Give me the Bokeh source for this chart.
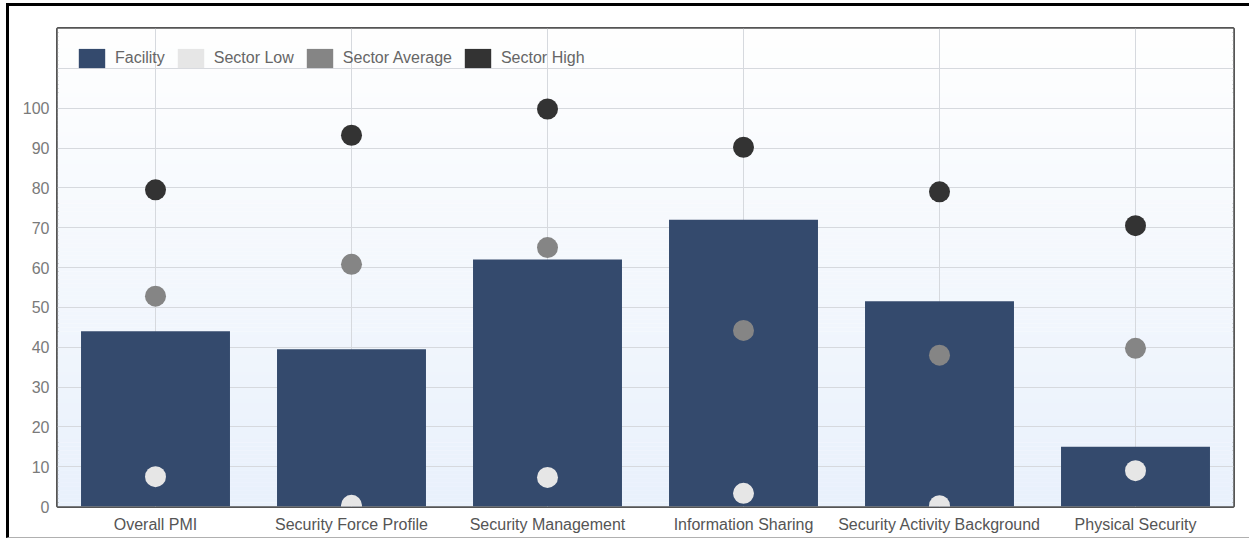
import numpy as np
from bokeh.plotting import figure
from bokeh.models import (FactorRange, Range1d, FixedTicker, Legend, LegendItem,
                          ColumnDataSource)
from bokeh.transform import dodge
from bokeh.embed import file_html
from bokeh.resources import INLINE

categories = ["Overall PMI", "Security Force Profile", "Security Management",
              "Information Sharing", "Security Activity Background", "Physical Security"]
facility = [44, 39.5, 62, 72, 51.5, 15]
sector_low = [7.5, 0.3, 7.3, 3.3, 0.2, 9]
sector_avg = [52.8, 60.8, 65, 44.2, 38, 39.7]
sector_high = [79.5, 93.2, 99.8, 90.2, 79, 70.5]
y_ticks = [0, 10, 20, 30, 40, 50, 60, 70, 80, 90, 100, 110, 120]

BAR = "#344a6d"
LOW = "#e6e6e6"
AVG = "#858585"
HIGH = "#333333"
FONT = "Liberation Sans"

src = ColumnDataSource(dict(cat=categories, facility=facility, low=sector_low,
                            avg=sector_avg, high=sector_high))

p = figure(width=1243, height=535, x_range=FactorRange(*categories, range_padding=0),
           y_range=Range1d(0, 120), output_backend="svg", toolbar_location=None,
           min_border_left=48, min_border_right=19, min_border_top=22, min_border_bottom=35)

# background gradient (white top -> light blue bottom), drawn as thin strips
n = 120
ys = np.arange(n) + 0.5
tt = ys / 120.0
top = np.array([255, 255, 255])
bot = np.array([233, 241, 252])
cols = ["#%02x%02x%02x" % tuple((bot * (1 - t) + top * t).astype(int)) for t in tt]
bg = ColumnDataSource(dict(y=ys, l=[categories[0]] * n, r=[categories[-1]] * n, c=cols))
p.hbar(y="y", height=1.05, left=dodge("l", -0.5, range=p.x_range),
       right=dodge("r", 0.5, range=p.x_range), fill_color="c", line_color=None,
       source=bg, level="underlay")

p.background_fill_color = "white"
p.border_fill_color = "white"
p.outline_line_color = "#555555"
p.outline_line_width = 3

p.xgrid.grid_line_color = "#d6d9de"
p.ygrid.grid_line_color = "#d6d9de"
p.xgrid.grid_line_width = 1
p.ygrid.grid_line_width = 1

p.yaxis.ticker = FixedTicker(ticks=y_ticks)
p.yaxis.major_label_overrides = {110: "", 120: ""}
for ax in (p.xaxis[0], p.yaxis[0]):
    ax.axis_line_color = None
    ax.major_tick_line_color = None
    ax.minor_tick_line_color = None
    ax.major_label_text_font = FONT
p.yaxis.major_label_text_font_size = "16px"
p.yaxis.major_label_text_color = "#7a7a7a"
p.yaxis.major_label_standoff = 2
p.xaxis.major_label_text_font_size = "16px"
p.xaxis.major_label_text_color = "#555555"
p.xaxis.major_label_standoff = 3

r_bar = p.vbar(x="cat", top="facility", width=0.76, source=src, fill_color=BAR,
               line_color=None)
r_low = p.scatter(x="cat", y="low", size=21, source=src, fill_color=LOW, line_color=None)
r_avg = p.scatter(x="cat", y="avg", size=21, source=src, fill_color=AVG, line_color=None)
r_high = p.scatter(x="cat", y="high", size=21, source=src, fill_color=HIGH, line_color=None)

# legend swatches (rectangular icons as in the original); zero-height, invisible in plot
sw = ColumnDataSource(dict(cat=[categories[0]], v=[0]))
sw_low = p.vbar(x="cat", top="v", width=0.5, source=sw, fill_color=LOW, line_color=None)
sw_avg = p.vbar(x="cat", top="v", width=0.5, source=sw, fill_color=AVG, line_color=None)
sw_high = p.vbar(x="cat", top="v", width=0.5, source=sw, fill_color=HIGH, line_color=None)

legend = Legend(items=[LegendItem(label="Facility", renderers=[r_bar]),
                       LegendItem(label="Sector Low", renderers=[sw_low]),
                       LegendItem(label="Sector Average", renderers=[sw_avg]),
                       LegendItem(label="Sector High", renderers=[sw_high])],
                orientation="horizontal", location="top_left")
legend.margin = 18
legend.padding = 9
legend.spacing = 9
legend.glyph_width = 33
legend.glyph_height = 24
legend.label_standoff = 7
legend.label_text_font = FONT
legend.label_text_font_size = "16px"
legend.label_text_color = "#666666"
legend.background_fill_alpha = 0
legend.border_line_color = None
p.add_layout(legend)

p.styles = {"margin-left": "6px", "margin-top": "3px",
            "border-top": "3px solid black", "border-left": "3px solid black",
            "border-bottom": "1px solid #b0b0b0"}

open("out.html", "w").write(file_html(p, INLINE))
